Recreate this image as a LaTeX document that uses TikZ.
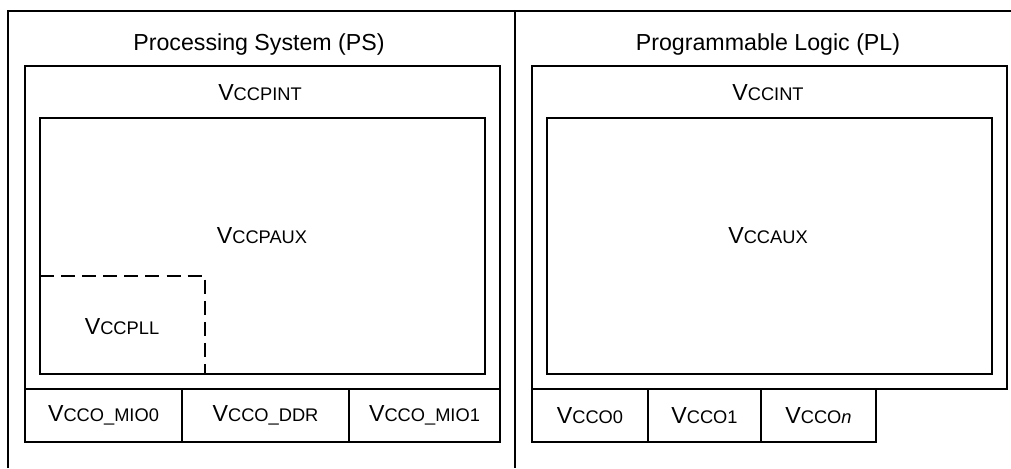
\documentclass[tikz,border=0pt]{standalone}
\usepackage{fontspec}
\setmainfont{Liberation Sans}
\usepackage{tikz}

% supply rail name: big V, smaller rest
\newcommand{\vrail}[1]{V{\fontsize{10.4}{12}\selectfont #1}}

\begin{document}
\begin{tikzpicture}[x=0.02cm,y=-0.02cm,line width=1.3pt]
\tikzset{
  title/.style={font=\fontsize{13.2}{16}\selectfont,anchor=base},
  rail/.style={font=\fontsize{13.2}{16}\selectfont,anchor=base},
  bank/.style={font=\fontsize{13.2}{16}\selectfont},
  pllline/.style={line width=0.8pt,dash pattern=on 8pt off 4pt}
}
\useasboundingbox (0,0) rectangle (1011,468);

% Outer regions (open at the bottom)
\draw (8,468) -- (8,11) -- (1011,11);
\draw (515,11) -- (515,468);

% Processing System
\node[title] (ps) at (259,50) {Processing System (PS)};
\draw (25,66) rectangle (500,389);
\node[rail] (vccpint) at (260,100) {\vrail{CCPINT}};
\draw (40,118) rectangle (485,374);
\node[rail] (vccpaux) at (262,243) {\vrail{CCPAUX}};
\draw[pllline] (40,276) -- (205,276) -- (205,374);
\node[rail] (vccpll) at (122,334) {\vrail{CCPLL}};

% PS I/O banks
\draw (25,389) rectangle (182,442) node[midway,bank] (mio0) {\vrail{CCO\_MIO0}};
\draw (182,389) rectangle (349,442) node[midway,bank] (ddr) {\vrail{CCO\_DDR}};
\draw (349,389) rectangle (500,442) node[midway,bank] (mio1) {\vrail{CCO\_MIO1}};

% Programmable Logic
\node[title] (pl) at (768,50) {Programmable Logic (PL)};
\draw (532,66) rectangle (1007,389);
\node[rail] (vccint) at (768,100) {\vrail{CCINT}};
\draw (547,118) rectangle (992,374);
\node[rail] (vccaux) at (768,243) {\vrail{CCAUX}};

% PL I/O banks
\draw (532,389) rectangle (648,442) node[midway,bank] (bank0) {\vrail{CCO0}};
\draw (648,389) rectangle (761,442) node[midway,bank] (bank1) {\vrail{CCO1}};
\draw (761,389) rectangle (876,442) node[midway,bank] (bankn) {\vrail{CCO\textit{n}}};
\end{tikzpicture}
\end{document}
